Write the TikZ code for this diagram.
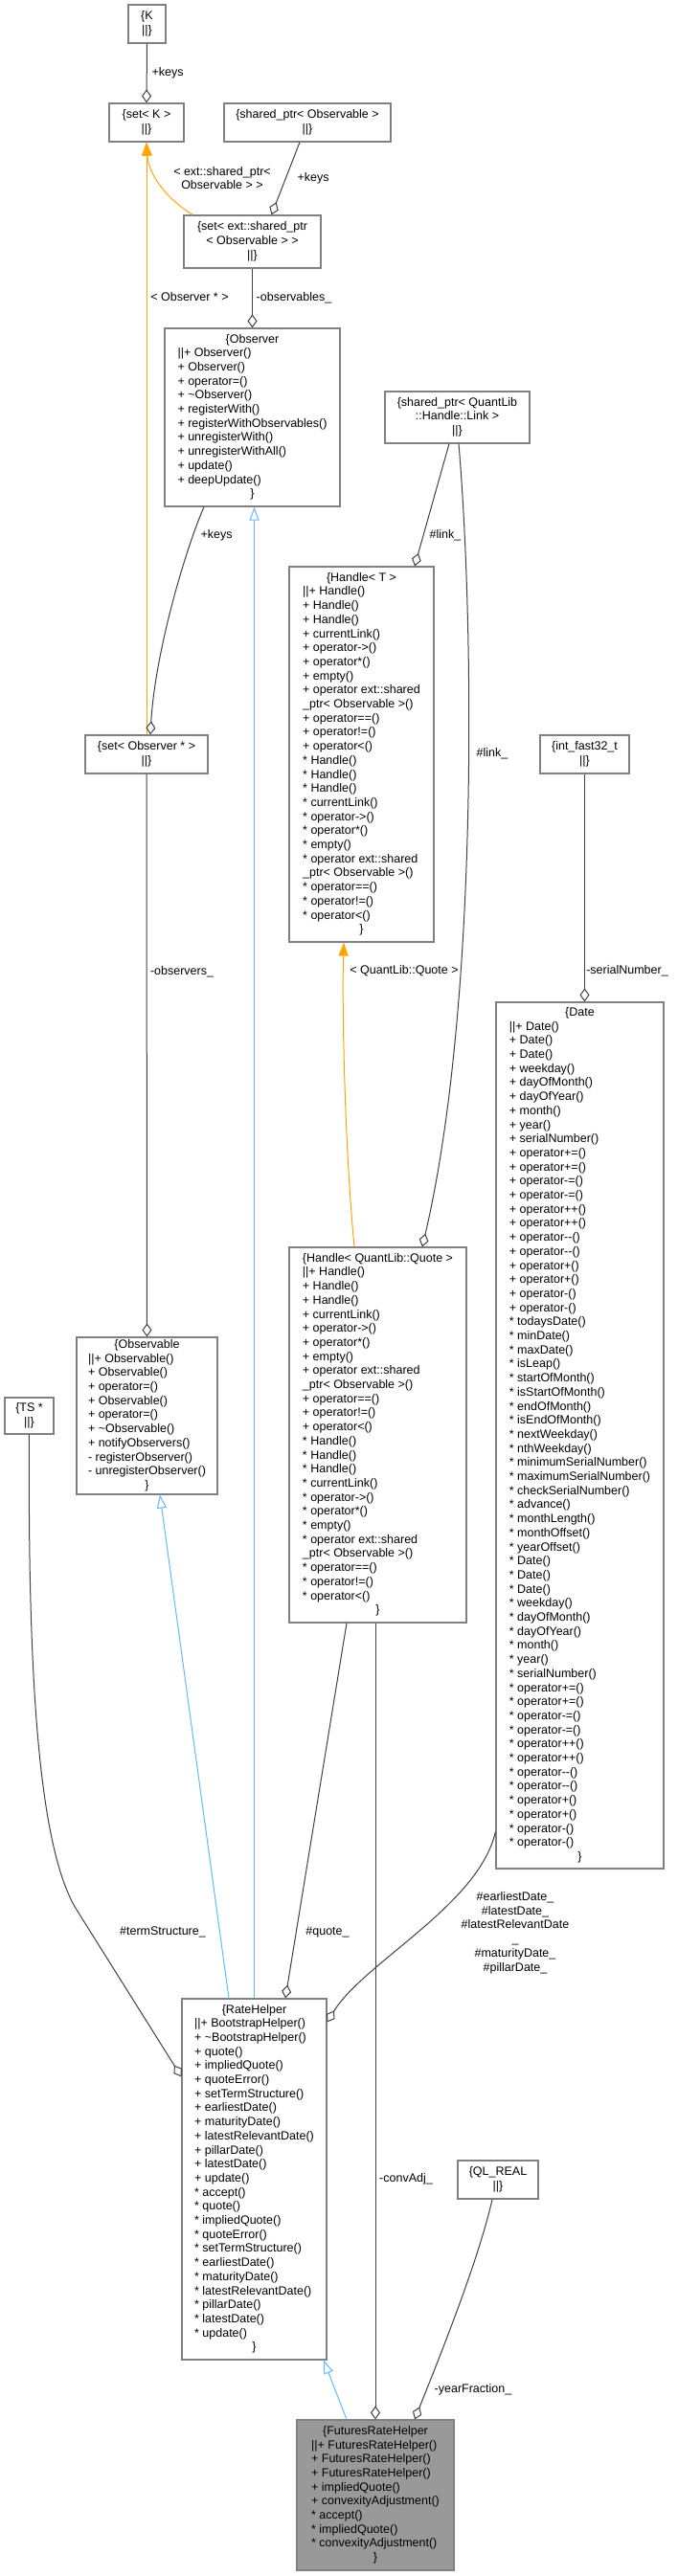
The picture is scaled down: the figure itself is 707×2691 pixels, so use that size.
\documentclass[tikz,border=0pt]{standalone}
\usepackage{fontspec}
\setmainfont{Liberation Sans}
\usetikzlibrary{arrows.meta}
\definecolor{boxgray}{HTML}{808080}
\definecolor{edgegray}{HTML}{404040}
\definecolor{inhblue}{HTML}{63B8FF}
\definecolor{tmplorange}{HTML}{FFA500}
\definecolor{hlgray}{HTML}{999999}
\newcommand{\fs}{\fontsize{12.5}{14.7}\selectfont}
\newcommand{\mcc}[1]{\multicolumn{1}{@{}c@{}}{#1}}
\newcommand{\ctab}[1]{\begin{tabular}{@{}c@{}}#1\end{tabular}}
\newcommand{\ltab}[1]{\begin{tabular}{@{}l@{}}#1\end{tabular}}
\newcommand{\st}{{*}}
\begin{document}
\begin{tikzpicture}[x=1pt,y=-1pt,
  cls/.style={draw=boxgray, fill=white, line width=1.2pt, inner sep=0pt, font=\fs},
  hl/.style={cls, fill=hlgray},
  agg/.style={draw=edgegray, line width=1pt, {Diamond[open,length=14pt,width=10pt]}-},
  inh/.style={draw=inhblue, line width=1pt, -{Triangle[open,length=14pt,width=10pt]}},
  tmpl/.style={draw=tmplorange, line width=1pt, -{Triangle[length=14pt,width=10pt]}},
  lbl/.style={font=\fs, inner sep=0pt, align=center}]
\useasboundingbox (0,0) rectangle (707,2691);

% ---------- boxes ----------
\node[cls, minimum width=39pt, minimum height=40pt] (K) at (153.5,25) {\ctab{\{K\\||\}}};
\node[cls, minimum width=78pt, minimum height=40pt] (setK) at (153,128) {\ctab{\{set< K >\\||\}}};
\node[cls, minimum width=174pt, minimum height=40pt] (spObs) at (321,128) {\ctab{\{shared\_ptr< Observable >\\||\}}};
\node[cls, minimum width=143pt, minimum height=55pt] (setExt) at (263.5,252.5) {\ctab{\{set< ext::shared\_ptr\\< Observable > >\\||\}}};
\node[cls, minimum width=183pt, minimum height=186pt] (Observer) at (263.5,436) {\ltab{\mcc{\{Observer}\\
||+ Observer()\\
+ Observer()\\
+ operator=()\\
+ \textasciitilde Observer()\\
+ registerWith()\\
+ registerWithObservables()\\
+ unregisterWith()\\
+ unregisterWithAll()\\
+ update()\\
+ deepUpdate()\\
\mcc{\}}}};
\node[cls, minimum width=151pt, minimum height=54pt] (spLink) at (477.5,436) {\ctab{\{shared\_ptr< QuantLib\\::Handle::Link >\\||\}}};
\node[cls, minimum width=151pt, minimum height=392pt] (HandleT) at (377.5,788) {\ltab{\mcc{\{Handle< T >}\\
||+ Handle()\\
+ Handle()\\
+ Handle()\\
+ currentLink()\\
+ operator->()\\
+ operator*()\\
+ empty()\\
+ operator ext::shared\\
\_ptr< Observable >()\\
+ operator==()\\
+ operator!=()\\
+ operator<()\\
\st{} Handle()\\
\st{} Handle()\\
\st{} Handle()\\
\st{} currentLink()\\
\st{} operator->()\\
\st{} operator*()\\
\st{} empty()\\
\st{} operator ext::shared\\
\_ptr< Observable >()\\
\st{} operator==()\\
\st{} operator!=()\\
\st{} operator<()\\
\mcc{\}}}};
\node[cls, minimum width=128pt, minimum height=40pt] (setObsP) at (153,788) {\ctab{\{set< Observer * >\\||\}}};
\node[cls, minimum width=93pt, minimum height=40pt] (intf) at (610.5,788) {\ctab{\{int\_fast32\_t\\||\}}};
\node[cls, minimum width=175pt, minimum height=905pt] (Date) at (605.5,1499.5) {\ltab{\mcc{\{Date}\\
||+ Date()\\
+ Date()\\
+ Date()\\
+ weekday()\\
+ dayOfMonth()\\
+ dayOfYear()\\
+ month()\\
+ year()\\
+ serialNumber()\\
+ operator+=()\\
+ operator+=()\\
+ operator-=()\\
+ operator-=()\\
+ operator++()\\
+ operator++()\\
+ operator-{}-()\\
+ operator-{}-()\\
+ operator+()\\
+ operator+()\\
+ operator-()\\
+ operator-()\\
\st{} todaysDate()\\
\st{} minDate()\\
\st{} maxDate()\\
\st{} isLeap()\\
\st{} startOfMonth()\\
\st{} isStartOfMonth()\\
\st{} endOfMonth()\\
\st{} isEndOfMonth()\\
\st{} nextWeekday()\\
\st{} nthWeekday()\\
\st{} minimumSerialNumber()\\
\st{} maximumSerialNumber()\\
\st{} checkSerialNumber()\\
\st{} advance()\\
\st{} monthLength()\\
\st{} monthOffset()\\
\st{} yearOffset()\\
\st{} Date()\\
\st{} Date()\\
\st{} Date()\\
\st{} weekday()\\
\st{} dayOfMonth()\\
\st{} dayOfYear()\\
\st{} month()\\
\st{} year()\\
\st{} serialNumber()\\
\st{} operator+=()\\
\st{} operator+=()\\
\st{} operator-=()\\
\st{} operator-=()\\
\st{} operator++()\\
\st{} operator++()\\
\st{} operator-{}-()\\
\st{} operator-{}-()\\
\st{} operator+()\\
\st{} operator+()\\
\st{} operator-()\\
\st{} operator-()\\
\mcc{\}}}};
\node[cls, minimum width=147pt, minimum height=164pt] (Observable) at (153.5,1479) {\ltab{\mcc{\{Observable}\\
||+ Observable()\\
+ Observable()\\
+ operator=()\\
+ Observable()\\
+ operator=()\\
+ \textasciitilde Observable()\\
+ notifyObservers()\\
- registerObserver()\\
- unregisterObserver()\\
\mcc{\}}}};
\node[cls, minimum width=51pt, minimum height=38pt] (TS) at (30.5,1479) {\ctab{\{TS *\\||\}}};
\node[cls, minimum width=185pt, minimum height=392pt] (HandleQ) at (394.5,1499) {\ltab{\mcc{\{Handle< QuantLib::Quote >}\\
||+ Handle()\\
+ Handle()\\
+ Handle()\\
+ currentLink()\\
+ operator->()\\
+ operator*()\\
+ empty()\\
+ operator ext::shared\\
\_ptr< Observable >()\\
+ operator==()\\
+ operator!=()\\
+ operator<()\\
\st{} Handle()\\
\st{} Handle()\\
\st{} Handle()\\
\st{} currentLink()\\
\st{} operator->()\\
\st{} operator*()\\
\st{} empty()\\
\st{} operator ext::shared\\
\_ptr< Observable >()\\
\st{} operator==()\\
\st{} operator!=()\\
\st{} operator<()\\
\mcc{\}}}};
\node[cls, minimum width=151pt, minimum height=377pt] (RateHelper) at (265.5,2276.5) {\ltab{\mcc{\{RateHelper}\\
||+ BootstrapHelper()\\
+ \textasciitilde BootstrapHelper()\\
+ quote()\\
+ impliedQuote()\\
+ quoteError()\\
+ setTermStructure()\\
+ earliestDate()\\
+ maturityDate()\\
+ latestRelevantDate()\\
+ pillarDate()\\
+ latestDate()\\
+ update()\\
\st{} accept()\\
\st{} quote()\\
\st{} impliedQuote()\\
\st{} quoteError()\\
\st{} setTermStructure()\\
\st{} earliestDate()\\
\st{} maturityDate()\\
\st{} latestRelevantDate()\\
\st{} pillarDate()\\
\st{} latestDate()\\
\st{} update()\\
\mcc{\}}}};
\node[cls, minimum width=84pt, minimum height=40pt] (QLREAL) at (520,2277) {\ctab{\{QL\_REAL\\||\}}};
\node[hl, minimum width=164pt, minimum height=157pt] (FRH) at (392,2606.5) {\ltab{\mcc{\{FuturesRateHelper}\\
||+ FuturesRateHelper()\\
+ FuturesRateHelper()\\
+ FuturesRateHelper()\\
+ impliedQuote()\\
+ convexityAdjustment()\\
\st{} accept()\\
\st{} impliedQuote()\\
\st{} convexityAdjustment()\\
\mcc{\}}}};

% ---------- connectors ----------
\draw[agg] (setK.north) -- (K.south);
\draw[agg] ([xshift=20pt]setExt.north) -- ([xshift=-8pt]spObs.south);
\draw[tmpl] ([xshift=10pt]setExt.north west) .. controls (170,205) and (155,180) .. (setK.south);
\draw[tmpl] (setObsP.north) -- (setK.south);
\draw[agg] (Observer.north) -- (setExt.south);
\draw[agg] ([xshift=4pt]setObsP.north) .. controls (162,680) and (195,570) .. ([xshift=-50.5pt]Observer.south);
\draw[agg] (Observable.north) -- (setObsP.south);
\draw[inh] ([xshift=-26.5pt]RateHelper.north) -- ([xshift=13.5pt]Observable.south);
\draw[inh] (RateHelper.north) -- (RateHelper.north |- Observer.south);
\draw[agg] ([xshift=55.5pt]HandleT.north) -- ([xshift=-8.5pt]spLink.south);
\draw[agg] ([xshift=46.5pt]HandleQ.north) .. controls (500,1050) and (495,650) .. ([xshift=1.5pt]spLink.south);
\draw[tmpl] ([xshift=-24.5pt]HandleQ.north) .. controls (360,1200) and (357,1050) .. ([xshift=-18.5pt]HandleT.south);
\draw[agg] (Date.north -| intf.south) -- (intf.south);
\draw[agg] ([yshift=-82pt]RateHelper.north west) -- (80,1995) .. controls (40,1930) and (29,1750) .. (TS.south);
\draw[agg] ([xshift=32.5pt]RateHelper.north) -- ([xshift=-32.5pt]HandleQ.south);
\draw[agg] ([yshift=-25pt]RateHelper.north east) .. controls (380,2050) and (500,1990) .. ([yshift=39pt]Date.south west);
\draw[agg] (FRH.north) -- (FRH.north |- HandleQ.south);
\draw[agg] ([xshift=41pt]FRH.north) .. controls (460,2460) and (500,2360) .. ([xshift=-6pt]QLREAL.south);
\draw[inh] ([xshift=-30pt]FRH.north) -- ([xshift=72.5pt]RateHelper.south);

% ---------- labels ----------
\node[lbl] (l1) at (175,76) {+keys};
\node[lbl] (l2) at (327,186) {+keys};
\node[lbl] (l3) at (232,186) {< ext::shared\_ptr<\\Observable > >};
\node[lbl] (l4) at (198,310) {< Observer * >};
\node[lbl] (l5) at (307,311) {-observables\_};
\node[lbl] (l6) at (226,559) {+keys};
\node[lbl] (l7) at (190,1015) {-observers\_};
\node[lbl] (l8) at (465,559) {\#link\_};
\node[lbl] (l9) at (514,787) {\#link\_};
\node[lbl] (l10) at (422,1014) {< QuantLib::Quote >};
\node[lbl] (l11) at (655,1014) {-serialNumber\_};
\node[lbl] (l12) at (170,2018) {\#termStructure\_};
\node[lbl] (l13) at (342,2018) {\#quote\_};
\node[lbl] (l14) at (538,2019) {\#earliestDate\_\\\#latestDate\_\\\#latestRelevantDate\\\_\\\#maturityDate\_\\\#pillarDate\_};
\node[lbl] (l15) at (424,2276) {-convAdj\_};
\node[lbl] (l16) at (494,2496) {-yearFraction\_};
\end{tikzpicture}
\end{document}
